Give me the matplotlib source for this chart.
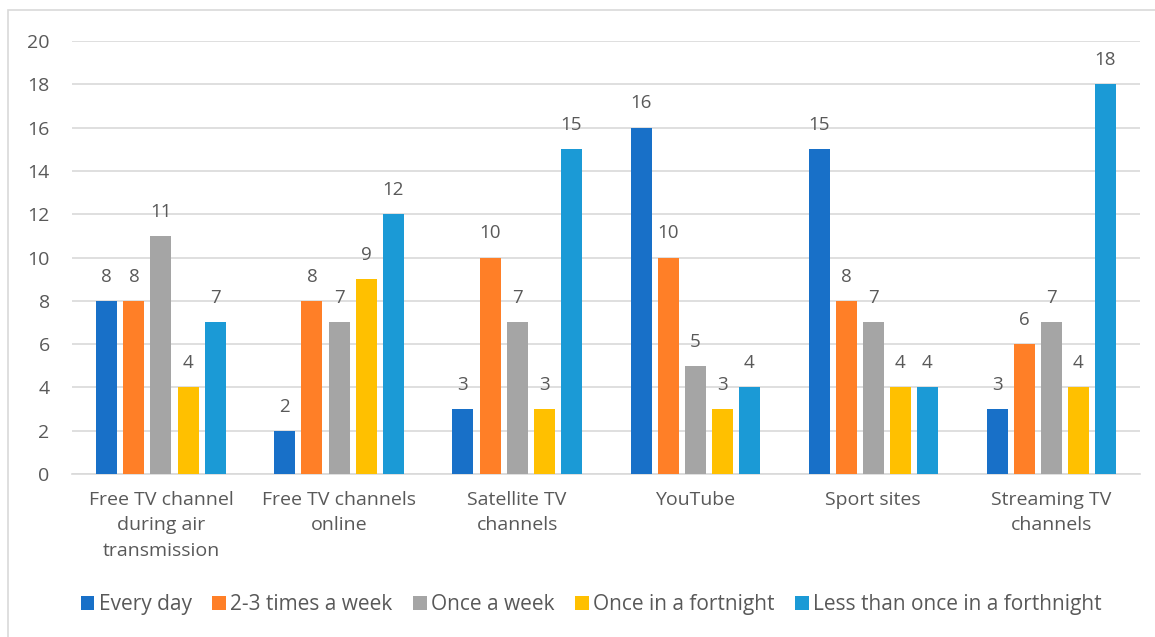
import matplotlib.pyplot as plt
import numpy as np
from matplotlib.patches import Rectangle

plt.rcParams['font.family'] = ['Open Sans', 'DejaVu Sans']

categories = ['Free TV channel\nduring air\ntransmission', 'Free TV channels\nonline',
              'Satellite TV\nchannels', 'YouTube', 'Sport sites', 'Streaming TV\nchannels']
series_names = ['Every day', '2-3 times a week', 'Once a week', 'Once in a fortnight',
                'Less than once in a forthnight']
every_day = [8, 2, 3, 16, 15, 3]
two_three_week = [8, 8, 10, 10, 8, 6]
once_week = [11, 7, 7, 5, 7, 7]
once_fortnight = [4, 9, 3, 3, 4, 4]
less_fortnight = [7, 12, 15, 4, 4, 18]
colors = ['#1870C8', '#FF7F27', '#A5A5A5', '#FFC000', '#1B9AD6']

text_col = '#595959'
fig = plt.figure(figsize=(11.55, 6.37), dpi=100)
fig.patches.append(Rectangle((0.007, -0.01), 1.0, 0.995, transform=fig.transFigure,
                             fill=False, edgecolor='#D9D9D9', linewidth=1.2))
ax = fig.add_axes([0.0623, 0.2559, 0.925, 0.6797])

x = np.arange(len(categories))
width = 0.118
step = 0.152
all_series = [every_day, two_three_week, once_week, once_fortnight, less_fortnight]
for i, (vals, name, c) in enumerate(zip(all_series, series_names, colors)):
    pos = x + (i - 2) * step
    ax.bar(pos, vals, width, color=c, label=name, zorder=3)
    for p, v in zip(pos, vals):
        ax.text(p, v + 0.7, str(v), ha='center', va='bottom', fontsize=13.5, color=text_col)

ax.set_xlim(-0.5, len(categories) - 0.5)
ax.set_ylim(0, 20)
ax.set_yticks(range(0, 21, 2))
ax.yaxis.grid(True, color='#D9D9D9', linewidth=1.2, zorder=0)
for s in ['top', 'right', 'left']:
    ax.spines[s].set_visible(False)
ax.spines['bottom'].set_color('#D9D9D9')
ax.spines['bottom'].set_linewidth(1.2)
ax.tick_params(axis='both', length=0, labelsize=14, colors=text_col)
ax.tick_params(axis='y', pad=16)
ax.tick_params(axis='x', pad=12)
ax.set_xticks(x)
ax.set_xticklabels(categories, linespacing=1.55)

ax.legend(loc='center', bbox_to_anchor=(0.486, -0.3025), ncol=5, frameon=False,
          fontsize=15, labelcolor=text_col, handlelength=0.65, handleheight=0.65,
          handletextpad=0.2, columnspacing=1.0)

fig.savefig('out.png', dpi=100)
